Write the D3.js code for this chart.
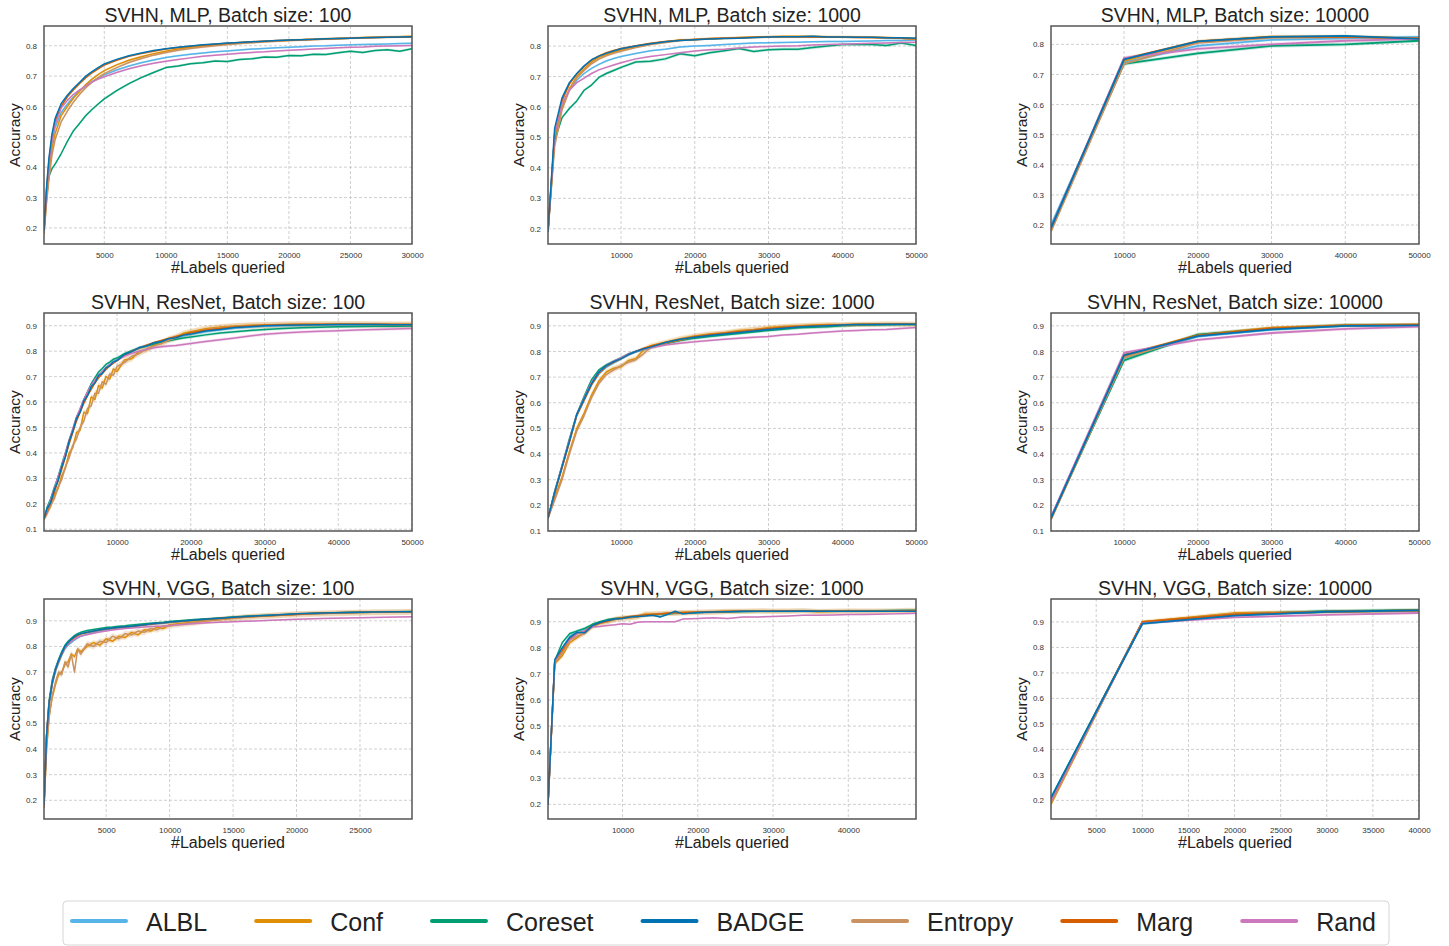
<!DOCTYPE html>
<html>
<head>
<meta charset="utf-8">
<script src="https://cdn.jsdelivr.net/npm/d3@7"></script>
<style>
  body { margin: 0; background: #fff; }
  text { font-family: "Liberation Sans", Arial, Helvetica, sans-serif; }
</style>
</head>
<body>
<svg id="chart" width="1449" height="946"></svg>
<script>
// ---------- methods ----------
const methods = ["ALBL", "Conf", "Coreset", "BADGE", "Entropy", "Marg", "Rand"];

// ---------- SVHN / MLP ----------
const mlp100X = [100,300,500,750,1000,1500,2000,2500,3000,3500,4000,4500,5000,6000,7000,8000,9000,10000,11000,12000,13000,14000,15000,16000,17000,18000,19000,20000,21000,22000,23000,24000,25000,26000,27000,28000,29000,30000];
const mlp100Albl    = [0.19,0.31,0.40,0.48,0.53,0.58,0.608,0.632,0.652,0.668,0.682,0.694,0.704,0.720,0.733,0.744,0.753,0.761,0.767,0.772,0.776,0.780,0.783,0.786,0.789,0.791,0.793,0.795,0.797,0.799,0.800,0.802,0.803,0.804,0.805,0.806,0.807,0.808];
const mlp100Conf    = [0.18,0.29,0.38,0.46,0.51,0.57,0.60,0.628,0.650,0.672,0.690,0.705,0.718,0.737,0.752,0.764,0.774,0.782,0.789,0.795,0.799,0.803,0.806,0.809,0.812,0.814,0.816,0.818,0.820,0.821,0.823,0.824,0.825,0.827,0.828,0.829,0.830,0.831];
const mlp100Coreset = [0.19,0.30,0.37,0.395,0.41,0.445,0.485,0.52,0.545,0.57,0.59,0.608,0.625,0.652,0.675,0.695,0.712,0.728,0.733,0.741,0.744,0.750,0.748,0.755,0.757,0.763,0.762,0.768,0.767,0.772,0.771,0.777,0.782,0.778,0.784,0.787,0.782,0.790];
const mlp100Badge   = [0.19,0.33,0.43,0.51,0.56,0.61,0.637,0.66,0.68,0.70,0.715,0.728,0.740,0.755,0.767,0.776,0.784,0.790,0.795,0.799,0.803,0.806,0.809,0.811,0.813,0.815,0.817,0.819,0.820,0.821,0.823,0.824,0.825,0.826,0.827,0.828,0.829,0.830];
const mlp100Entropy = [0.18,0.28,0.36,0.44,0.49,0.55,0.585,0.615,0.640,0.662,0.680,0.695,0.708,0.728,0.745,0.758,0.769,0.778,0.785,0.791,0.796,0.800,0.804,0.807,0.810,0.813,0.815,0.817,0.819,0.820,0.822,0.823,0.825,0.826,0.827,0.828,0.829,0.830];
const mlp100Marg    = [0.19,0.32,0.42,0.50,0.55,0.60,0.632,0.655,0.676,0.695,0.711,0.724,0.736,0.752,0.765,0.774,0.782,0.789,0.794,0.798,0.802,0.805,0.808,0.811,0.813,0.815,0.817,0.818,0.820,0.821,0.822,0.824,0.825,0.826,0.827,0.828,0.828,0.829];
const mlp100Rand    = [0.19,0.32,0.41,0.49,0.54,0.595,0.62,0.64,0.655,0.668,0.680,0.690,0.698,0.712,0.724,0.734,0.742,0.749,0.755,0.760,0.765,0.769,0.772,0.775,0.778,0.780,0.783,0.785,0.787,0.789,0.791,0.793,0.795,0.796,0.798,0.799,0.800,0.801];
const mlp100Spread  = [0.003,0.004,0.004,0.002,0.004,0.002,0.003];

const mlp1000X = [100,1000,2000,3000,4000,5000,6000,7000,8000,9000,10000,12000,14000,16000,18000,20000,22000,24000,26000,28000,30000,32000,34000,36000,38000,40000,42000,44000,46000,48000,50000];
const mlp1000Albl    = [0.19,0.51,0.605,0.655,0.688,0.710,0.727,0.740,0.751,0.759,0.766,0.776,0.785,0.790,0.797,0.800,0.802,0.805,0.808,0.810,0.811,0.812,0.813,0.814,0.815,0.815,0.816,0.817,0.818,0.818,0.820];
const mlp1000Conf    = [0.19,0.49,0.60,0.66,0.70,0.725,0.748,0.763,0.772,0.780,0.787,0.798,0.807,0.814,0.820,0.822,0.825,0.826,0.828,0.829,0.831,0.832,0.832,0.832,0.831,0.831,0.830,0.829,0.828,0.826,0.822];
const mlp1000Coreset = [0.19,0.49,0.565,0.595,0.620,0.655,0.672,0.697,0.710,0.720,0.730,0.748,0.750,0.758,0.775,0.768,0.778,0.785,0.792,0.782,0.788,0.790,0.790,0.795,0.800,0.805,0.805,0.805,0.802,0.810,0.802];
const mlp1000Badge   = [0.19,0.53,0.63,0.68,0.71,0.735,0.755,0.767,0.776,0.784,0.791,0.80,0.808,0.814,0.818,0.821,0.823,0.825,0.826,0.828,0.830,0.831,0.831,0.832,0.830,0.830,0.829,0.829,0.827,0.827,0.826];
const mlp1000Entropy = [0.19,0.47,0.59,0.655,0.695,0.720,0.742,0.757,0.768,0.776,0.783,0.795,0.805,0.812,0.818,0.821,0.824,0.826,0.827,0.828,0.830,0.830,0.830,0.830,0.830,0.830,0.829,0.828,0.827,0.826,0.824];
const mlp1000Marg    = [0.19,0.51,0.62,0.675,0.708,0.733,0.754,0.768,0.778,0.786,0.792,0.801,0.809,0.815,0.819,0.822,0.824,0.826,0.827,0.829,0.830,0.831,0.831,0.830,0.830,0.829,0.828,0.828,0.827,0.826,0.825];
const mlp1000Rand    = [0.19,0.51,0.61,0.655,0.680,0.695,0.710,0.722,0.730,0.738,0.745,0.758,0.766,0.772,0.778,0.784,0.788,0.790,0.794,0.797,0.799,0.800,0.801,0.804,0.805,0.806,0.808,0.809,0.810,0.812,0.813];
const mlp1000Spread  = [0.003,0.004,0.005,0.002,0.004,0.002,0.003];

const mlp10000X = [100,10000,20000,30000,40000,50000];
const mlp10000Albl    = [0.20,0.740,0.795,0.815,0.820,0.825];
const mlp10000Conf    = [0.18,0.745,0.810,0.826,0.826,0.820];
const mlp10000Coreset = [0.19,0.735,0.770,0.795,0.800,0.812];
const mlp10000Badge   = [0.19,0.750,0.810,0.825,0.828,0.818];
const mlp10000Entropy = [0.18,0.735,0.805,0.822,0.824,0.820];
const mlp10000Marg    = [0.19,0.752,0.810,0.825,0.825,0.820];
const mlp10000Rand    = [0.19,0.755,0.785,0.800,0.812,0.818];
const mlp10000Spread  = [0.005,0.006,0.006,0.004,0.005,0.004,0.006];

// ---------- SVHN / ResNet ----------
const res100X = [100,500,1000,1500,2000,2500,3000,3500,4000,4500,5000,5500,6000,6500,7000,7500,8000,8500,9000,9500,10000,11000,12000,13000,14000,15000,16000,17000,18000,19000,20000,22000,24000,26000,28000,30000,32500,35000,37500,40000,42500,45000,47500,50000];
const res100Albl    = [0.14,0.175,0.215,0.255,0.30,0.345,0.39,0.44,0.485,0.53,0.565,0.60,0.63,0.66,0.685,0.705,0.72,0.735,0.748,0.758,0.767,0.787,0.80,0.812,0.822,0.83,0.838,0.846,0.853,0.86,0.866,0.876,0.884,0.89,0.895,0.898,0.90,0.901,0.902,0.903,0.903,0.903,0.903,0.903];
const res100Conf    = [0.14,0.165,0.19,0.235,0.26,0.31,0.34,0.40,0.42,0.48,0.49,0.56,0.555,0.62,0.61,0.665,0.655,0.70,0.69,0.73,0.72,0.765,0.77,0.80,0.805,0.825,0.83,0.848,0.855,0.87,0.876,0.888,0.895,0.899,0.902,0.903,0.905,0.906,0.906,0.906,0.906,0.905,0.905,0.905];
const res100Coreset = [0.14,0.185,0.22,0.265,0.305,0.355,0.40,0.45,0.49,0.54,0.57,0.61,0.64,0.672,0.695,0.718,0.732,0.748,0.757,0.768,0.773,0.79,0.802,0.812,0.82,0.828,0.835,0.841,0.847,0.852,0.856,0.864,0.871,0.876,0.881,0.885,0.889,0.892,0.894,0.896,0.897,0.898,0.898,0.899];
const res100Badge   = [0.14,0.18,0.205,0.255,0.29,0.345,0.385,0.445,0.485,0.535,0.56,0.605,0.625,0.66,0.675,0.705,0.712,0.734,0.742,0.758,0.763,0.787,0.798,0.814,0.82,0.833,0.838,0.849,0.853,0.863,0.867,0.879,0.885,0.893,0.896,0.90,0.902,0.903,0.904,0.905,0.905,0.905,0.904,0.904];
const res100Entropy = [0.14,0.16,0.195,0.22,0.265,0.295,0.345,0.38,0.43,0.455,0.50,0.525,0.575,0.585,0.635,0.635,0.68,0.67,0.71,0.705,0.74,0.755,0.78,0.79,0.81,0.82,0.83,0.843,0.853,0.863,0.872,0.884,0.892,0.897,0.90,0.902,0.904,0.905,0.905,0.905,0.905,0.905,0.904,0.904];
const res100Marg    = [0.14,0.17,0.205,0.245,0.29,0.335,0.385,0.435,0.48,0.525,0.56,0.595,0.625,0.65,0.675,0.695,0.712,0.728,0.742,0.753,0.763,0.783,0.80,0.812,0.823,0.833,0.842,0.85,0.858,0.865,0.872,0.882,0.889,0.895,0.899,0.902,0.904,0.905,0.905,0.906,0.906,0.906,0.905,0.905];
const res100Rand    = [0.14,0.175,0.215,0.26,0.305,0.35,0.40,0.45,0.495,0.54,0.575,0.61,0.64,0.665,0.688,0.705,0.72,0.735,0.747,0.757,0.765,0.78,0.792,0.80,0.807,0.813,0.817,0.82,0.822,0.826,0.83,0.838,0.845,0.852,0.86,0.866,0.871,0.875,0.878,0.88,0.883,0.885,0.887,0.889];
const res100Spread  = [0.006,0.012,0.006,0.005,0.012,0.005,0.006];

const res1000X = [100,1000,2000,3000,4000,5000,6000,7000,8000,9000,10000,11000,12000,13000,14000,16000,18000,20000,22000,24000,26000,28000,30000,32000,34000,36000,38000,40000,42000,44000,46000,48000,50000];
const res1000Albl    = [0.15,0.25,0.35,0.45,0.55,0.61,0.67,0.712,0.738,0.755,0.77,0.785,0.798,0.808,0.816,0.832,0.845,0.853,0.86,0.866,0.872,0.878,0.884,0.889,0.893,0.896,0.899,0.902,0.904,0.905,0.905,0.906,0.906];
const res1000Conf    = [0.15,0.23,0.31,0.41,0.50,0.56,0.63,0.685,0.72,0.735,0.74,0.765,0.772,0.805,0.822,0.836,0.85,0.86,0.868,0.873,0.882,0.886,0.893,0.897,0.90,0.903,0.905,0.904,0.906,0.907,0.908,0.907,0.906];
const res1000Coreset = [0.15,0.255,0.355,0.46,0.555,0.625,0.69,0.728,0.748,0.762,0.775,0.79,0.80,0.808,0.815,0.83,0.843,0.852,0.858,0.864,0.87,0.876,0.882,0.887,0.892,0.894,0.896,0.90,0.902,0.903,0.904,0.905,0.905];
const res1000Badge   = [0.15,0.25,0.35,0.45,0.555,0.615,0.675,0.72,0.745,0.76,0.772,0.788,0.80,0.81,0.817,0.835,0.848,0.855,0.862,0.868,0.874,0.88,0.886,0.891,0.895,0.898,0.90,0.903,0.905,0.905,0.906,0.906,0.906];
const res1000Entropy = [0.15,0.22,0.30,0.40,0.49,0.55,0.62,0.675,0.71,0.728,0.745,0.758,0.768,0.79,0.815,0.832,0.845,0.858,0.865,0.872,0.878,0.885,0.89,0.895,0.898,0.90,0.902,0.903,0.905,0.905,0.906,0.906,0.906];
const res1000Marg    = [0.15,0.245,0.345,0.445,0.55,0.61,0.67,0.715,0.742,0.758,0.772,0.788,0.80,0.812,0.82,0.834,0.846,0.857,0.865,0.871,0.877,0.883,0.889,0.894,0.897,0.90,0.902,0.904,0.905,0.906,0.906,0.907,0.906];
const res1000Rand    = [0.15,0.25,0.355,0.455,0.555,0.62,0.68,0.72,0.745,0.762,0.775,0.79,0.80,0.808,0.814,0.825,0.832,0.838,0.843,0.848,0.852,0.855,0.858,0.864,0.867,0.872,0.876,0.88,0.882,0.885,0.886,0.89,0.893];
const res1000Spread  = [0.005,0.010,0.006,0.004,0.010,0.005,0.005];

const res10000X = [100,10000,20000,30000,40000,50000];
const res10000Albl    = [0.155,0.775,0.858,0.885,0.900,0.903];
const res10000Conf    = [0.145,0.780,0.865,0.893,0.903,0.906];
const res10000Coreset = [0.150,0.765,0.866,0.888,0.902,0.903];
const res10000Badge   = [0.150,0.785,0.860,0.886,0.900,0.902];
const res10000Entropy = [0.145,0.775,0.862,0.890,0.902,0.905];
const res10000Marg    = [0.150,0.787,0.863,0.890,0.902,0.904];
const res10000Rand    = [0.155,0.795,0.845,0.872,0.888,0.897];
const res10000Spread  = [0.005,0.006,0.008,0.004,0.006,0.005,0.006];

// ---------- SVHN / VGG ----------
const vgg100X = [100,300,500,750,1000,1250,1500,1750,2000,2250,2500,2750,3000,3500,4000,4500,5000,5500,6000,6500,7000,7500,8000,8500,9000,9500,10000,11000,12000,13000,14000,15000,16000,18000,20000,22000,24000,26000,28000,29100];
const vgg100Albl    = [0.18,0.44,0.57,0.65,0.70,0.735,0.765,0.79,0.805,0.815,0.825,0.833,0.84,0.848,0.854,0.86,0.864,0.868,0.871,0.874,0.877,0.88,0.883,0.886,0.888,0.89,0.893,0.898,0.902,0.906,0.91,0.913,0.916,0.921,0.926,0.929,0.931,0.933,0.934,0.935];
const vgg100Conf    = [0.17,0.40,0.53,0.60,0.65,0.69,0.70,0.73,0.74,0.77,0.76,0.79,0.78,0.80,0.815,0.805,0.83,0.82,0.84,0.835,0.855,0.845,0.865,0.86,0.875,0.87,0.885,0.89,0.895,0.90,0.905,0.91,0.915,0.92,0.926,0.929,0.931,0.933,0.934,0.935];
const vgg100Coreset = [0.18,0.45,0.59,0.67,0.715,0.75,0.78,0.805,0.82,0.832,0.842,0.85,0.855,0.862,0.866,0.87,0.874,0.876,0.879,0.881,0.884,0.886,0.888,0.89,0.892,0.894,0.897,0.901,0.905,0.908,0.911,0.915,0.918,0.922,0.926,0.929,0.932,0.934,0.935,0.936];
const vgg100Badge   = [0.18,0.45,0.58,0.66,0.71,0.745,0.775,0.80,0.815,0.828,0.838,0.845,0.85,0.855,0.86,0.865,0.869,0.872,0.875,0.877,0.879,0.882,0.885,0.888,0.89,0.892,0.895,0.899,0.903,0.907,0.91,0.914,0.917,0.922,0.927,0.93,0.932,0.934,0.935,0.935];
const vgg100Entropy = [0.17,0.40,0.52,0.61,0.66,0.70,0.69,0.74,0.72,0.77,0.70,0.79,0.77,0.81,0.80,0.82,0.815,0.84,0.83,0.85,0.845,0.86,0.855,0.87,0.865,0.88,0.88,0.888,0.893,0.90,0.905,0.91,0.914,0.92,0.925,0.928,0.931,0.933,0.934,0.935];
const vgg100Marg    = [0.18,0.45,0.58,0.655,0.705,0.74,0.77,0.795,0.81,0.823,0.834,0.842,0.848,0.854,0.859,0.864,0.868,0.871,0.874,0.876,0.878,0.881,0.884,0.887,0.889,0.891,0.894,0.898,0.902,0.906,0.91,0.913,0.916,0.921,0.926,0.93,0.932,0.934,0.935,0.935];
const vgg100Rand    = [0.18,0.45,0.58,0.66,0.71,0.745,0.775,0.795,0.81,0.82,0.828,0.835,0.84,0.846,0.851,0.856,0.86,0.864,0.867,0.87,0.872,0.874,0.876,0.878,0.879,0.88,0.882,0.886,0.889,0.892,0.894,0.896,0.898,0.902,0.906,0.909,0.911,0.913,0.915,0.916];
const vgg100Spread  = [0.004,0.010,0.004,0.003,0.012,0.004,0.003];

const vgg1000X = [100,1000,2000,3000,4000,5000,6000,7000,8000,9000,10000,11000,12000,13000,14000,15000,16000,17000,18000,20000,22000,24000,26000,28000,30000,32000,34000,36000,38000,40000,42000,44000,46000,48000,49000];
const vgg1000Albl    = [0.20,0.75,0.80,0.845,0.865,0.87,0.888,0.898,0.905,0.91,0.914,0.918,0.92,0.924,0.926,0.928,0.93,0.933,0.932,0.935,0.936,0.938,0.939,0.94,0.94,0.94,0.94,0.94,0.94,0.94,0.94,0.941,0.941,0.941,0.941];
const vgg1000Conf    = [0.20,0.74,0.77,0.82,0.84,0.86,0.885,0.895,0.90,0.91,0.915,0.915,0.918,0.93,0.93,0.93,0.932,0.933,0.935,0.936,0.938,0.94,0.94,0.942,0.94,0.941,0.942,0.938,0.94,0.941,0.94,0.941,0.94,0.942,0.942];
const vgg1000Coreset = [0.20,0.75,0.82,0.855,0.865,0.875,0.89,0.90,0.908,0.912,0.915,0.918,0.922,0.925,0.927,0.929,0.93,0.932,0.933,0.935,0.937,0.938,0.939,0.94,0.94,0.94,0.941,0.94,0.94,0.941,0.941,0.942,0.943,0.944,0.944];
const vgg1000Badge   = [0.20,0.755,0.80,0.84,0.86,0.858,0.885,0.897,0.905,0.91,0.912,0.918,0.92,0.922,0.925,0.918,0.928,0.94,0.93,0.935,0.937,0.938,0.94,0.94,0.94,0.94,0.941,0.94,0.94,0.94,0.94,0.94,0.94,0.94,0.94];
const vgg1000Entropy = [0.20,0.74,0.78,0.83,0.845,0.855,0.88,0.893,0.90,0.908,0.913,0.916,0.92,0.926,0.928,0.93,0.932,0.933,0.934,0.936,0.937,0.939,0.94,0.94,0.941,0.94,0.942,0.94,0.94,0.941,0.941,0.94,0.942,0.943,0.943];
const vgg1000Marg    = [0.20,0.75,0.79,0.835,0.855,0.865,0.885,0.895,0.903,0.91,0.915,0.92,0.923,0.926,0.928,0.93,0.932,0.934,0.935,0.936,0.938,0.939,0.94,0.94,0.94,0.941,0.941,0.94,0.94,0.941,0.941,0.94,0.941,0.941,0.942];
const vgg1000Rand    = [0.20,0.75,0.80,0.83,0.855,0.865,0.88,0.882,0.885,0.888,0.892,0.89,0.898,0.90,0.90,0.90,0.90,0.90,0.91,0.912,0.915,0.912,0.918,0.918,0.92,0.922,0.925,0.925,0.926,0.928,0.928,0.929,0.93,0.931,0.932];
const vgg1000Spread  = [0.004,0.010,0.005,0.003,0.010,0.004,0.003];

const vgg10000X = [100,10000,20000,30000,40000];
const vgg10000Albl    = [0.20,0.895,0.928,0.940,0.945];
const vgg10000Conf    = [0.185,0.900,0.935,0.940,0.945];
const vgg10000Coreset = [0.21,0.895,0.930,0.942,0.946];
const vgg10000Badge   = [0.21,0.893,0.925,0.940,0.945];
const vgg10000Entropy = [0.19,0.898,0.932,0.940,0.944];
const vgg10000Marg    = [0.20,0.900,0.930,0.940,0.945];
const vgg10000Rand    = [0.20,0.895,0.918,0.928,0.935];
const vgg10000Spread  = [0.006,0.008,0.008,0.004,0.006,0.005,0.004];

// ---------- axis settings ----------
const panelTitles = [
  "SVHN, MLP, Batch size: 100", "SVHN, MLP, Batch size: 1000", "SVHN, MLP, Batch size: 10000",
  "SVHN, ResNet, Batch size: 100", "SVHN, ResNet, Batch size: 1000", "SVHN, ResNet, Batch size: 10000",
  "SVHN, VGG, Batch size: 100", "SVHN, VGG, Batch size: 1000", "SVHN, VGG, Batch size: 10000"
];
const xLimits = [[100,30000],[100,50000],[100,50000],[100,50000],[100,50000],[100,50000],[100,29100],[100,49000],[100,40000]];
const xTickSteps = [5000,10000,10000,10000,10000,10000,5000,10000,5000];
const yLimits = [[0.147,0.865],[0.150,0.866],[0.137,0.861],[0.093,0.950],[0.100,0.950],[0.100,0.950],[0.127,0.985],[0.144,0.987],[0.127,0.990]];

const panelX = [mlp100X, mlp1000X, mlp10000X, res100X, res1000X, res10000X, vgg100X, vgg1000X, vgg10000X];
const panelSeries = [
  [mlp100Albl, mlp100Conf, mlp100Coreset, mlp100Badge, mlp100Entropy, mlp100Marg, mlp100Rand],
  [mlp1000Albl, mlp1000Conf, mlp1000Coreset, mlp1000Badge, mlp1000Entropy, mlp1000Marg, mlp1000Rand],
  [mlp10000Albl, mlp10000Conf, mlp10000Coreset, mlp10000Badge, mlp10000Entropy, mlp10000Marg, mlp10000Rand],
  [res100Albl, res100Conf, res100Coreset, res100Badge, res100Entropy, res100Marg, res100Rand],
  [res1000Albl, res1000Conf, res1000Coreset, res1000Badge, res1000Entropy, res1000Marg, res1000Rand],
  [res10000Albl, res10000Conf, res10000Coreset, res10000Badge, res10000Entropy, res10000Marg, res10000Rand],
  [vgg100Albl, vgg100Conf, vgg100Coreset, vgg100Badge, vgg100Entropy, vgg100Marg, vgg100Rand],
  [vgg1000Albl, vgg1000Conf, vgg1000Coreset, vgg1000Badge, vgg1000Entropy, vgg1000Marg, vgg1000Rand],
  [vgg10000Albl, vgg10000Conf, vgg10000Coreset, vgg10000Badge, vgg10000Entropy, vgg10000Marg, vgg10000Rand]
];
const panelSpread = [mlp100Spread, mlp1000Spread, mlp10000Spread, res100Spread, res1000Spread, res10000Spread, vgg100Spread, vgg1000Spread, vgg10000Spread];

// ---------- styling ----------
const methodColors = ["#56B4E9", "#DE8F05", "#029E73", "#0173B2", "#CA9161", "#D55E00", "#CC78BC"];
const drawOrder = [0, 1, 2, 4, 5, 6, 3];   // BADGE drawn last so it sits on top
const colLeft = [44, 548, 1051];
const rowTop = [26, 313, 599];
const rowHeight = [218, 218, 220];
const plotWidth = 368;

const svg = d3.select("#chart");

panelTitles.forEach((title, p) => {
  const col = p % 3, row = Math.floor(p / 3);
  const left = colLeft[col], top = rowTop[row], w = plotWidth, h = rowHeight[row];

  const x = d3.scaleLinear().domain(xLimits[p]).range([0, w]);
  const y = d3.scaleLinear().domain(yLimits[p]).range([h, 0]);

  const g = svg.append("g").attr("transform", `translate(${left},${top})`);

  const clipId = `clip-${p}`;
  g.append("clipPath").attr("id", clipId)
    .append("rect").attr("width", w).attr("height", h);

  const xTicks = d3.range(xTickSteps[p], xLimits[p][1] + 1, xTickSteps[p]);
  const yTicks = y.ticks(8).filter(v => Math.abs(v * 10 - Math.round(v * 10)) < 1e-9);

  // grid
  const grid = g.append("g").attr("class", "grid");
  grid.selectAll("line.gx").data(xTicks).join("line")
    .attr("x1", d => x(d)).attr("x2", d => x(d)).attr("y1", 0).attr("y2", h)
    .attr("stroke", "#c4c4c4").attr("stroke-width", 0.8).attr("stroke-dasharray", "3,2");
  grid.selectAll("line.gy").data(yTicks).join("line")
    .attr("y1", d => y(d)).attr("y2", d => y(d)).attr("x1", 0).attr("x2", w)
    .attr("stroke", "#c4c4c4").attr("stroke-width", 0.8).attr("stroke-dasharray", "3,2");

  // series: bands then lines
  const xs = panelX[p];
  const plotArea = g.append("g").attr("clip-path", `url(#${clipId})`);
  drawOrder.forEach(m => {
    const vals = panelSeries[p][m];
    const s = panelSpread[p][m];
    const pts = xs.map((xv, i) => [xv, vals[i]]);
    const area = d3.area()
      .x(d => x(d[0])).y0(d => y(d[1] - s)).y1(d => y(d[1] + s));
    plotArea.append("path").datum(pts)
      .attr("d", area).attr("fill", methodColors[m]).attr("fill-opacity", 0.22).attr("stroke", "none");
  });
  drawOrder.forEach(m => {
    const vals = panelSeries[p][m];
    const pts = xs.map((xv, i) => [xv, vals[i]]);
    const line = d3.line().x(d => x(d[0])).y(d => y(d[1]));
    plotArea.append("path").datum(pts)
      .attr("d", line).attr("fill", "none")
      .attr("stroke", methodColors[m]).attr("stroke-width", col === 2 ? 1.8 : 1.5)
      .attr("stroke-linejoin", "round");
  });

  // axes
  const xAxis = d3.axisBottom(x).tickValues(xTicks).tickSize(0).tickPadding(8).tickFormat(d3.format("d"));
  const yAxis = d3.axisLeft(y).tickValues(yTicks).tickSize(0).tickPadding(7).tickFormat(d3.format(".1f"));
  const gx = g.append("g").attr("transform", `translate(0,${h})`).call(xAxis);
  const gy = g.append("g").call(yAxis);
  [gx, gy].forEach(a => {
    a.select(".domain").remove();
    a.selectAll("text").attr("font-size", 8).attr("fill", "#333")
      .attr("font-family", "'Liberation Sans', Arial, sans-serif");
  });

  // frame
  g.append("rect").attr("width", w).attr("height", h)
    .attr("fill", "none").attr("stroke", "#555").attr("stroke-width", 1.5);

  // title and axis labels
  g.append("text").attr("x", w / 2).attr("y", -4.5).attr("text-anchor", "middle")
    .attr("font-size", 19.5).attr("fill", "#222").text(title);
  g.append("text").attr("x", w / 2).attr("y", h + 29).attr("text-anchor", "middle")
    .attr("font-size", 16).attr("fill", "#222").text("#Labels queried");
  g.append("text").attr("transform", `translate(${-24},${h / 2}) rotate(-90)`)
    .attr("text-anchor", "middle").attr("font-size", 15.5).attr("fill", "#222").text("Accuracy");
});

// ---------- legend ----------
const legend = svg.append("g");
legend.append("rect").attr("x", 63).attr("y", 901).attr("width", 1326).attr("height", 44)
  .attr("rx", 4).attr("fill", "#fff").attr("stroke", "#d6d6d6").attr("stroke-width", 1);
let cursor = 72;
methods.forEach((name, m) => {
  legend.append("line").attr("x1", cursor).attr("x2", cursor + 54)
    .attr("y1", 921).attr("y2", 921)
    .attr("stroke", methodColors[m]).attr("stroke-width", 4).attr("stroke-linecap", "round");
  const t = legend.append("text").attr("x", cursor + 74).attr("y", 930.5)
    .attr("font-size", 25).attr("fill", "#222").text(name);
  cursor += 74 + t.node().getComputedTextLength() + 49;
});
</script>
</body>
</html>
